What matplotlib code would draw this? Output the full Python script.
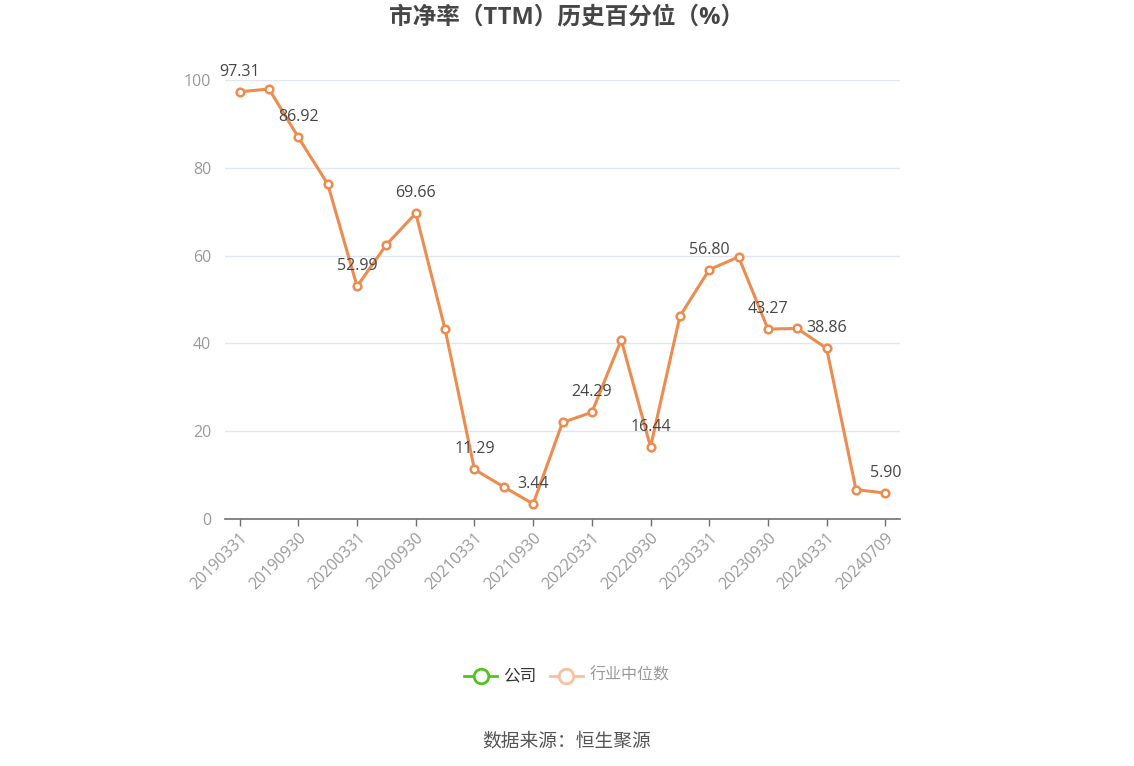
import numpy as np
import matplotlib.pyplot as plt

plt.rcParams['font.family'] = ['Open Sans', 'Noto Sans CJK SC', 'DejaVu Sans']

# data
dates = ['20190331', '20190630', '20190930', '20191231', '20200331', '20200630',
         '20200930', '20201231', '20210331', '20210630', '20210930', '20211231',
         '20220331', '20220630', '20220930', '20221231', '20230331', '20230630',
         '20230930', '20231231', '20240331', '20240630', '20240709']
values = [97.31, 97.95, 86.92, 76.3, 52.99, 62.5, 69.66, 43.2, 11.29, 7.3, 3.44, 22.0,
          24.29, 40.8, 16.44, 46.2, 56.80, 59.7, 43.27, 43.4, 38.86, 6.7, 5.90]
yticks = [0, 20, 40, 60, 80, 100]

W, H = 1134, 766
fig = plt.figure(figsize=(W / 100, H / 100), dpi=100)
ax = fig.add_axes([225 / W, 1 - 519 / H, (900 - 225) / W, (519 - 80) / H])

x = np.arange(len(dates))
line_color = '#EE8B4E'
ax.plot(x, values, color=line_color, lw=2.2, marker='o', ms=5.5,
        markerfacecolor='white', markeredgecolor=line_color, markeredgewidth=1.8,
        zorder=5, clip_on=False)

# value labels on every other point
for i in range(0, len(values), 2):
    ax.annotate(f'{values[i]:.2f}', (x[i], values[i]), xytext=(0, 14.5),
                textcoords='offset points', ha='center', va='center',
                fontsize=11.5, color='#464646', zorder=6)

ax.set_xlim(-0.5, len(dates) - 0.5)
ax.set_ylim(0, 100)
ax.set_yticks(yticks)
ax.set_yticklabels([str(t) for t in yticks])
ax.set_xticks(x[::2])
ax.set_xticklabels(dates[::2], rotation=45, ha='right', rotation_mode='anchor')
ax.tick_params(axis='x', colors='#6E7079', length=5, width=1, labelsize=11.5,
               labelcolor='#999999', pad=3)
ax.tick_params(axis='y', length=0, labelsize=11.5, labelcolor='#999999', pad=10)

ax.grid(axis='y', color='#E0E6F1', lw=1)
ax.set_axisbelow(True)
for s in ['top', 'right', 'left']:
    ax.spines[s].set_visible(False)
ax.spines['bottom'].set_color('#6E7079')
ax.spines['bottom'].set_linewidth(1.2)

fig.text(0.5, 1 - 18 / H, '市净率（TTM）历史百分位（%）', ha='center', va='center',
         fontsize=17, fontweight='bold', color='#464646')

# legend
ly = 1 - 676 / H
fig.lines.append(plt.Line2D([464 / W, 497 / W], [ly, ly], color='#52C41A', lw=2,
                            transform=fig.transFigure))
fig.lines.append(plt.Line2D([481 / W], [ly], marker='o', ms=10.5, mfc='white', mec='#52C41A',
                            mew=2, transform=fig.transFigure))
fig.text(503 / W, ly, '公司', ha='left', va='center', fontsize=12, color='#333333')
fig.lines.append(plt.Line2D([550 / W, 583 / W], [ly, ly], color='#F9C0A0', lw=2,
                            transform=fig.transFigure))
fig.lines.append(plt.Line2D([566 / W], [ly], marker='o', ms=10.5, mfc='white', mec='#F9C0A0',
                            mew=2, transform=fig.transFigure))
fig.text(590 / W, ly, '行业中位数', ha='left', va='center', fontsize=11.5, color='#999999')

fig.text(0.5, 1 - 741 / H, '数据来源：恒生聚源', ha='center', va='center',
         fontsize=13.5, color='#555555')

fig.savefig('out.png', dpi=100, facecolor='white')
